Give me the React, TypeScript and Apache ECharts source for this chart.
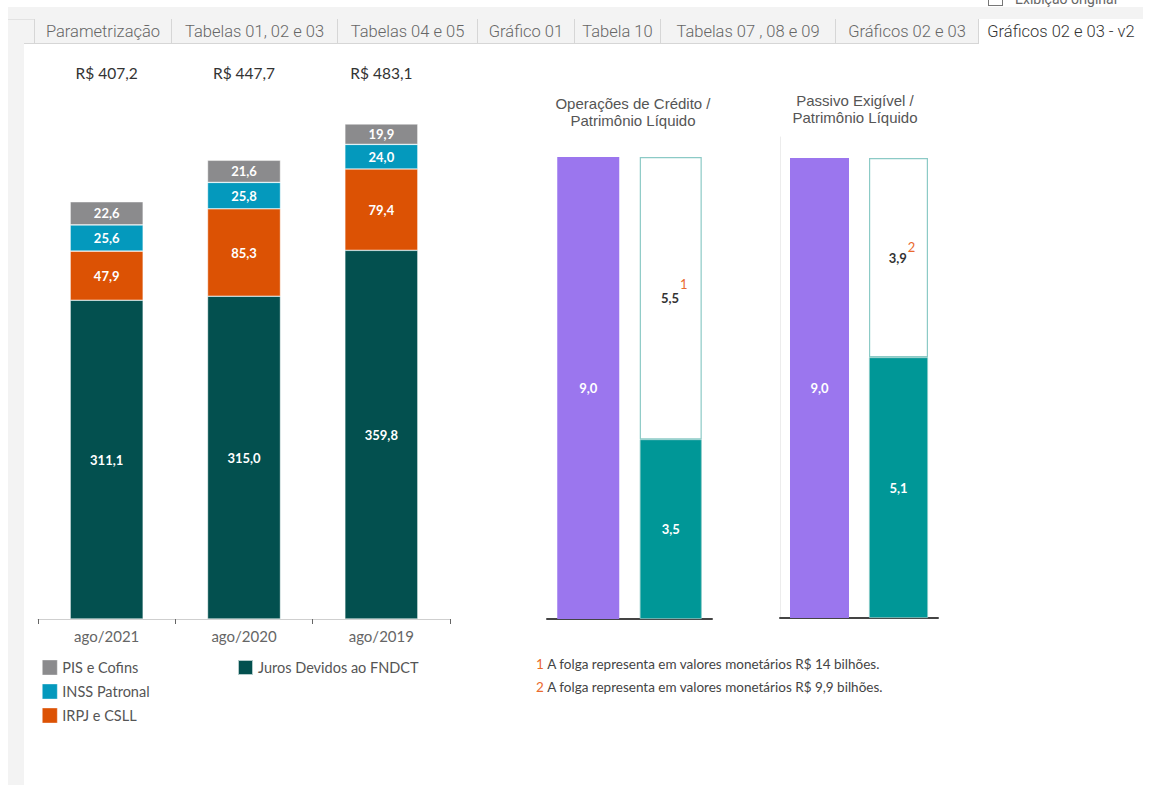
import React, { useEffect, useRef } from "react";
import * as echarts from "echarts";

// ---------- data ----------
const periods = ["ago/2021", "ago/2020", "ago/2019"];
const jurosFNDCT = [311.1, 315.0, 359.8];
const irpjCsll = [47.9, 85.3, 79.4];
const inssPatronal = [25.6, 25.8, 24.0];
const pisCofins = [22.6, 21.6, 19.9];

const nameJuros = "Juros Devidos ao FNDCT";
const nameIrpj = "IRPJ e CSLL";
const nameInss = "INSS Patronal";
const namePis = "PIS e Cofins";

const ratioCats = ["Limite", "Utilizado"];
const creditLimit = [9.0];
const creditUsed = [3.5];
const creditSlack = [5.5];
const liabLimit = [9.0];
const liabUsed = [5.1];
const liabSlack = [3.9];

const creditTitle = "Operações de Crédito /\nPatrimônio Líquido";
const liabTitle = "Passivo Exigível /\nPatrimônio Líquido";
const footnoteMarks = ["1", "2"];
const footnoteTexts = [
  "A folga representa em valores monetários R$ 14 bilhões.",
  "A folga representa em valores monetários R$ 9,9 bilhões.",
];

const tabs = [
  "Parametrização",
  "Tabelas 01, 02 e 03",
  "Tabelas 04 e 05",
  "Gráfico 01",
  "Tabela 10",
  "Tabelas 07 , 08 e 09",
  "Gráficos 02 e 03",
  "Gráficos 02 e 03 - v2",
];
const tabEdges = [34, 171, 337, 477, 574, 660, 835, 978, 1143];

// ---------- styles ----------
const C_JUROS = "#03504f";
const C_IRPJ = "#dc5204";
const C_INSS = "#0499bd";
const C_PIS = "#8b8b8d";
const C_PURPLE = "#9b76ee";
const C_TEAL = "#009797";
const C_TEAL_BORDER = "#8ccac6";
const C_ORANGE = "#ea6a2e";
const LABEL_FONT = "Lato";

const fmt = (v: number) => v.toFixed(1).replace(".", ",");

export default function App() {
  const ref = useRef<HTMLDivElement>(null);

  useEffect(() => {
    if (!ref.current) return;
    const chart = echarts.init(ref.current, undefined, { renderer: "svg" });

    const totals = periods.map((_, i) =>
      "R$ " + fmt(jurosFNDCT[i] + irpjCsll[i] + inssPatronal[i] + pisCofins[i])
    );

    const segLabel = {
      show: true,
      position: "inside",
      color: "#fff",
      fontWeight: "bold",
      fontSize: 13,
      fontFamily: LABEL_FONT,
      formatter: (p: any) => fmt(p.value),
    };

    const leftBar = (name: string, data: number[], color: string) => ({
      name,
      type: "bar",
      stack: "total",
      xAxisIndex: 0,
      yAxisIndex: 0,
      barWidth: 73,
      data,
      itemStyle: { color, borderColor: "rgba(255,255,255,0.7)", borderWidth: 0.6 },
      label: segLabel,
    });

    const slackLabel = (mark: string, raise: number) => ({
      show: true,
      position: "inside",
      formatter: (p: any) => `{v|${fmt(p.value)}}{s|${mark}}`,
      rich: {
        v: {
          color: "#333",
          fontWeight: "bold",
          fontSize: 13,
          fontFamily: LABEL_FONT,
          padding: [0, 0, 0, 7],
        },
        s: {
          color: C_ORANGE,
          fontSize: 13,
          fontFamily: LABEL_FONT,
          padding: [0, 0, raise, 1],
        },
      },
    });

    const ratioSeries = (
      axisIdx: number,
      stack: string,
      limit: number[],
      used: number[],
      slack: number[],
      width: number,
      mark: string,
      raise: number
    ) => [
      {
        name: stack + "-limit",
        type: "bar",
        stack,
        xAxisIndex: axisIdx,
        yAxisIndex: axisIdx - 1,
        barWidth: width,
        data: [limit[0], "-"],
        itemStyle: { color: C_PURPLE },
        label: segLabel,
      },
      {
        name: stack + "-used",
        type: "bar",
        stack,
        xAxisIndex: axisIdx,
        yAxisIndex: axisIdx - 1,
        barWidth: width,
        data: ["-", used[0]],
        itemStyle: { color: C_TEAL, borderColor: C_TEAL_BORDER, borderWidth: 0.8 },
        label: segLabel,
      },
      {
        name: stack + "-slack",
        type: "bar",
        stack,
        xAxisIndex: axisIdx,
        yAxisIndex: axisIdx - 1,
        barWidth: width,
        data: ["-", slack[0]],
        itemStyle: { color: "#fff", borderColor: C_TEAL_BORDER, borderWidth: 1.2 },
        label: slackLabel(mark, raise),
      },
    ];

    const legendText = { color: "#555", fontSize: 14.5, fontFamily: LABEL_FONT, lineHeight: 17 };

    const option: any = {
      animation: false,
      textStyle: { fontFamily: LABEL_FONT },
      grid: [
        { left: 38, top: 100, width: 412, height: 519 },
        { left: 547, top: 157, width: 165, height: 462 },
        { left: 780, top: 137, width: 158, height: 481 },
      ],
      xAxis: [
        {
          type: "category",
          gridIndex: 0,
          data: periods,
          axisLine: { lineStyle: { color: "#cfcfcf", width: 1 } },
          axisTick: { show: true, length: 5, lineStyle: { color: "#666" } },
          axisLabel: { color: "#666", fontSize: 15, fontFamily: LABEL_FONT, margin: 9 },
        },
        {
          type: "category",
          gridIndex: 0,
          position: "top",
          data: totals,
          axisLine: { show: false },
          axisTick: { show: false },
          axisLabel: { color: "#333", fontSize: 15.5, fontFamily: LABEL_FONT, margin: 19 },
        },
        {
          type: "category",
          gridIndex: 1,
          data: ratioCats,
          axisLine: { lineStyle: { color: "#444", width: 2 } },
          axisTick: { show: false },
          axisLabel: { show: false },
        },
        {
          type: "category",
          gridIndex: 2,
          data: ratioCats,
          axisLine: { lineStyle: { color: "#444", width: 2 } },
          axisTick: { show: false },
          axisLabel: { show: false },
        },
      ],
      yAxis: [
        { type: "value", gridIndex: 0, min: 0, max: 506.5, show: false },
        { type: "value", gridIndex: 1, min: 0, max: 9, show: false },
        {
          type: "value",
          gridIndex: 2,
          min: 0,
          max: 9.41,
          axisLine: { show: true, lineStyle: { color: "#ececec" } },
          axisTick: { show: false },
          axisLabel: { show: false },
          splitLine: { show: false },
        },
      ],
      legend: [
        {
          left: 42,
          top: 659,
          padding: 0,
          orient: "vertical",
          icon: "rect",
          itemWidth: 15,
          itemHeight: 15,
          itemGap: 7,
          itemStyle: { borderColor: "rgba(255,255,255,0.6)", borderWidth: 0.6 },
          data: [namePis, nameInss, nameIrpj],
          textStyle: legendText,
          selectedMode: false,
        },
        {
          left: 237,
          top: 659,
          padding: 0,
          orient: "vertical",
          icon: "rect",
          itemWidth: 15,
          itemHeight: 15,
          data: [nameJuros],
          textStyle: legendText,
          selectedMode: false,
        },
      ],
      series: [
        leftBar(nameJuros, jurosFNDCT, C_JUROS),
        leftBar(nameIrpj, irpjCsll, C_IRPJ),
        leftBar(nameInss, inssPatronal, C_INSS),
        leftBar(namePis, pisCofins, C_PIS),
        ...ratioSeries(2, "credit", creditLimit, creditUsed, creditSlack, 62, footnoteMarks[0], 28),
        ...ratioSeries(3, "liab", liabLimit, liabUsed, liabSlack, 59, footnoteMarks[1], 22),
      ],
      graphic: [
        {
          type: "text",
          x: 633,
          y: 95,
          style: {
            text: creditTitle,
            align: "center",
            fill: "#555",
            fontSize: 15,
            fontFamily: "Liberation Sans",
            lineHeight: 17,
          },
        },
        {
          type: "text",
          x: 855,
          y: 92,
          style: {
            text: liabTitle,
            align: "center",
            fill: "#555",
            fontSize: 15,
            fontFamily: "Liberation Sans",
            lineHeight: 17,
          },
        },
        ...footnoteTexts.map((t, i) => ({
          type: "text",
          x: 536,
          y: 657 + i * 23,
          style: {
            text: `{n|${footnoteMarks[i]}} {t|${t}}`,
            rich: {
              n: { fill: C_ORANGE, fontSize: 13.5, fontFamily: LABEL_FONT },
              t: { fill: "#444", fontSize: 13.5, fontFamily: LABEL_FONT },
            },
          },
        })),
      ],
    };

    chart.setOption(option);
    return () => chart.dispose();
  }, []);

  return (
    <div
      style={{
        position: "absolute",
        left: 0,
        top: 0,
        width: 1150,
        height: 785,
        background: "#fff",
        overflow: "hidden",
        fontFamily: "Roboto, sans-serif",
      }}
    >
      <div style={{ position: "absolute", left: 8, top: 7, width: 1135, height: 778, background: "#f3f3f3" }} />
      <div style={{ position: "absolute", left: 8, top: 19, width: 1135, height: 1, background: "#e2e2e2" }} />
      <div style={{ position: "absolute", left: 24, top: 44, width: 1119, height: 741, background: "#fff" }} />
      <div style={{ position: "absolute", left: 24, top: 43, width: 1119, height: 1, background: "#d6d6d6" }} />
      {tabs.map((t, i) => {
        const active = i === tabs.length - 1;
        return (
          <div
            key={t}
            style={{
              position: "absolute",
              left: tabEdges[i],
              top: 19,
              width: tabEdges[i + 1] - tabEdges[i],
              height: active ? 25 : 24,
              boxSizing: "border-box",
              borderLeft: "1px solid #d6d6d6",
              background: active ? "#fff" : "#f3f3f3",
              color: active ? "#333" : "#666",
              fontSize: 16.5,
              fontWeight: 300,
              lineHeight: "26px",
              textAlign: "center",
              whiteSpace: "nowrap",
              overflow: "hidden",
            }}
          >
            {t}
          </div>
        );
      })}
      <div
        style={{
          position: "absolute",
          left: 988,
          top: -4,
          width: 15,
          height: 10,
          border: "1px solid #777",
          boxSizing: "border-box",
        }}
      />
      <div
        style={{
          position: "absolute",
          left: 1015,
          top: -9,
          fontSize: 14,
          color: "#666",
          whiteSpace: "nowrap",
        }}
      >
        Exibição original
      </div>
      <div ref={ref} style={{ position: "absolute", left: 0, top: 0, width: 1150, height: 785 }} />
    </div>
  );
}
